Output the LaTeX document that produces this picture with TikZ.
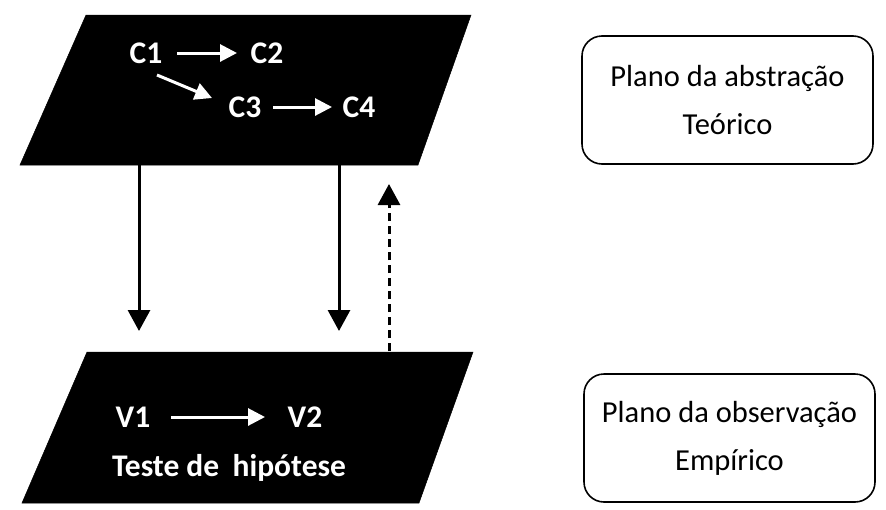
\documentclass[tikz,border=0pt]{standalone}
\usepackage{fontspec}
\setmainfont{Carlito}
\usetikzlibrary{arrows.meta}
\begin{document}
\begin{tikzpicture}[x=1pt,y=-1pt,
 plane/.style={fill=black,draw=black,line width=0.5pt},
 lbl/.style={text=white,font=\bfseries\fontsize{31.5}{36}\selectfont,inner sep=0pt},
 warrow/.style={white,line width=3pt,-{Triangle[width=17pt,length=17pt]}},
 barrow/.style={black,line width=3pt,-{Triangle[width=22pt,length=21pt]}},
 dasharrow/.style={black,line width=3pt,dash pattern=on 8pt off 5pt,-{Triangle[width=22pt,length=21pt]}},
 infobox/.style={draw=black,line width=1.6pt,rounded corners=20pt,minimum width=291pt,minimum height=128pt,align=center,font=\fontsize{30.5}{48}\selectfont}
]
\useasboundingbox (0,0) rectangle (886,509);
% planes
\path[plane] (86,15) -- (471,15) -- (418,165) -- (20,165) -- cycle;
\path[plane] (87,352) -- (473,352) -- (419,503) -- (22,503) -- cycle;
% concept labels
\node[lbl] (c1) at (146,53) {C1};
\node[lbl] (c2) at (267,53) {C2};
\node[lbl] (c3) at (245,107) {C3};
\node[lbl] (c4) at (359,107) {C4};
\node[lbl] (v1) at (133,417) {V1};
\node[lbl] (v2) at (305,417) {V2};
\node[lbl] (th) at (229,468) {Teste de\hspace{0.2em} hip\'otese};
% white arrows
\coordinate (a1s) at (177,53); \coordinate (a1e) at (237,53);
\coordinate (a2s) at (157,75); \coordinate (a2e) at (212,98);
\coordinate (a3s) at (273,107); \coordinate (a3e) at (332,107);
\coordinate (a4s) at (171,417); \coordinate (a4e) at (265,417);
\draw[warrow] (a1s) -- (a1e);
\draw[warrow] (a2s) -- (a2e);
\draw[warrow] (a3s) -- (a3e);
\draw[warrow] (a4s) -- (a4e);
% black arrows between planes
\coordinate (l1s) at (139,165); \coordinate (l1e) at (139,331);
\coordinate (l2s) at (339,165); \coordinate (l2e) at (339,331);
\coordinate (l3s) at (389,351); \coordinate (l3e) at (389,184);
\draw[barrow] (l1s) -- (l1e);
\draw[barrow] (l2s) -- (l2e);
\draw[dasharrow] (l3s) -- (l3e);
% info boxes
\node[infobox] (abs) at (727.5,100) {Plano da abstra\c{c}\~ao\\Te\'orico};
\node[infobox] (obs) at (729.5,438) {Plano da observa\c{c}\~ao\\Emp\'irico};
\end{tikzpicture}
\end{document}
